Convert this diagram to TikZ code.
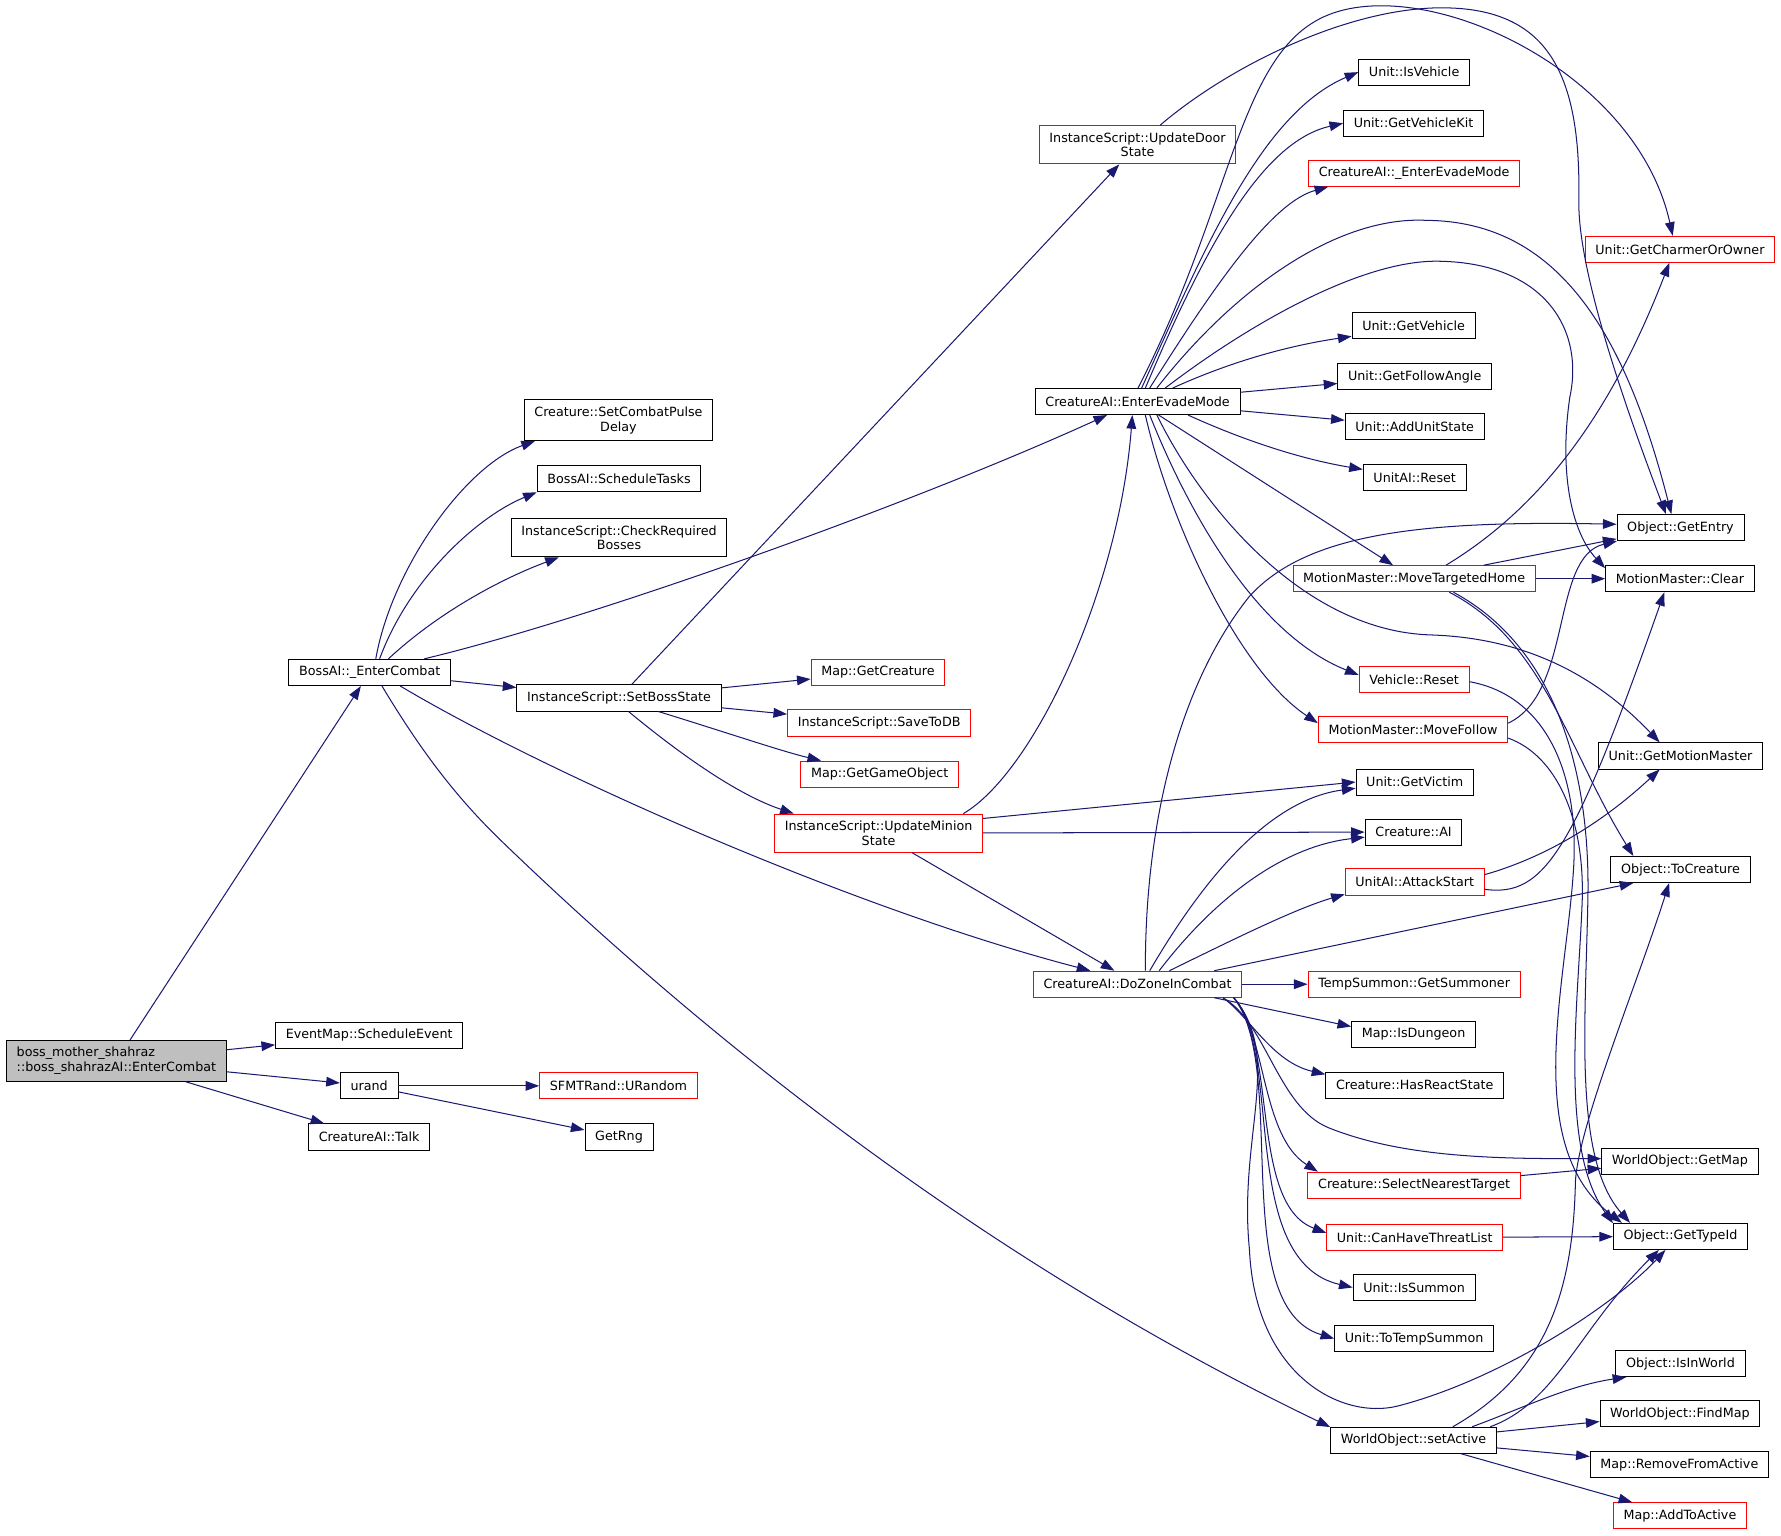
\documentclass[tikz,border=0pt]{standalone}
\usepackage{fontspec}
\setmainfont{DejaVu Sans}
\usetikzlibrary{arrows.meta}
\definecolor{edgeblue}{RGB}{25,25,112}
\definecolor{boxgray}{RGB}{191,191,191}

\begin{document}
\begin{tikzpicture}[x=1pt,y=1pt,>={Triangle[length=12pt,width=8.5pt]}]
    \tikzstyle{fn}=[draw=black,line width=0.8pt,inner xsep=9pt,inner ysep=6pt,minimum height=23pt,align=center,font=\fontsize{11.2}{13}\selectfont]
    \tikzstyle{trunc}=[fn,draw=red]
    \tikzstyle{root}=[fn,fill=boxgray,align=left]
    \tikzstyle{call}=[->,draw=edgeblue,line width=0.9pt]

    \useasboundingbox (0,0) rectangle (1568,-1352);

    \node[root] at (102.5,-934) (main) {boss\_mother\_shahraz\\::boss\_shahrazAI::EnterCombat};
    \node[fn] at (325,-911.5) (sched) {EventMap::ScheduleEvent};
    \node[fn] at (325,-956) (urand) {urand};
    \node[fn] at (325,-1001) (talk) {CreatureAI::Talk};
    \node[fn] at (325.5,-592) (bossec) {BossAI::\_EnterCombat};
    \node[trunc] at (544.5,-956) (urandom) {SFMTRand::URandom};
    \node[fn] at (545,-1001) (getrng) {GetRng};
    \node[fn] at (544.5,-370) (pulse) {Creature::SetCombatPulse\\Delay};
    \node[fn] at (545,-421.5) (tasks) {BossAI::ScheduleTasks};
    \node[fn] at (545,-473.5) (checkreq) {InstanceScript::CheckRequired\\Bosses};
    \node[fn] at (545,-614.5) (setboss) {InstanceScript::SetBossState};
    \node[trunc] at (1001.5,-127.5) (doorstate) {InstanceScript::UpdateDoor\\State};
    \node[fn] at (1001.5,-353.5) (evade) {CreatureAI::EnterEvadeMode};
    \node[trunc] at (773,-592) (getcreature) {Map::GetCreature};
    \node[trunc] at (774,-636.5) (savedb) {InstanceScript::SaveToDB};
    \node[trunc] at (774.5,-681.5) (getgo) {Map::GetGameObject};
    \node[trunc] at (773.5,-733.5) (minion) {InstanceScript::UpdateMinion\\State};
    \node[trunc] at (1001.5,-866.5) (zone) {CreatureAI::DoZoneInCombat};
    \node[fn] at (1244.5,-1268) (setactive) {WorldObject::setActive};

    \node[fn] at (1245,-63.5) (isvehicle) {Unit::IsVehicle};
    \node[fn] at (1244.5,-108.5) (vehiclekit) {Unit::GetVehicleKit};
    \node[trunc] at (1245,-152.5) (evadeint) {CreatureAI::\_EnterEvadeMode};
    \node[fn] at (1244.5,-286.5) (getvehicle) {Unit::GetVehicle};
    \node[fn] at (1245.5,-331.5) (followangle) {Unit::GetFollowAngle};
    \node[fn] at (1245.5,-375.5) (addstate) {Unit::AddUnitState};
    \node[fn] at (1245.5,-420.5) (aireset) {UnitAI::Reset};
    \node[trunc] at (1245,-509.5) (movehome) {MotionMaster::MoveTargetedHome};
    \node[trunc] at (1245,-598.5) (vehreset) {Vehicle::Reset};
    \node[trunc] at (1244,-642.5) (movefollow) {MotionMaster::MoveFollow};
    \node[fn] at (1245.5,-688.5) (getvictim) {Unit::GetVictim};
    \node[fn] at (1244.5,-732.5) (creatureai) {Creature::AI};
    \node[trunc] at (1245.5,-776.5) (attackstart) {UnitAI::AttackStart};
    \node[trunc] at (1245,-866.5) (summoner) {TempSummon::GetSummoner};
    \node[fn] at (1244.5,-910.5) (isdungeon) {Map::IsDungeon};
    \node[fn] at (1245.5,-955.5) (reactstate) {Creature::HasReactState};
    \node[trunc] at (1245,-1043.5) (nearest) {Creature::SelectNearestTarget};
    \node[trunc] at (1245.5,-1089.5) (threat) {Unit::CanHaveThreatList};
    \node[fn] at (1245,-1133.5) (issummon) {Unit::IsSummon};
    \node[fn] at (1245,-1178.5) (totemp) {Unit::ToTempSummon};

    \node[trunc] at (1479,-219.5) (charmer) {Unit::GetCharmerOrOwner};
    \node[fn] at (1479.5,-464.5) (getentry) {Object::GetEntry};
    \node[fn] at (1479,-509.5) (clear) {MotionMaster::Clear};
    \node[fn] at (1479.5,-665.5) (motionmaster) {Unit::GetMotionMaster};
    \node[fn] at (1479.5,-765.5) (tocreature) {Object::ToCreature};
    \node[fn] at (1479,-1022.5) (getmap) {WorldObject::GetMap};
    \node[fn] at (1479.5,-1088.5) (typeid) {Object::GetTypeId};
    \node[fn] at (1479.5,-1200.5) (inworld) {Object::IsInWorld};
    \node[fn] at (1479,-1244.5) (findmap) {WorldObject::FindMap};
    \node[fn] at (1478.5,-1289.5) (removeactive) {Map::RemoveFromActive};
    \node[trunc] at (1479,-1334.5) (addactive) {Map::AddToActive};

    \draw[call] (main) -- (bossec);
    \draw[call] (main) -- (sched);
    \draw[call] (main) -- (urand);
    \draw[call] (main) -- (talk);
    \draw[call] (urand) -- (urandom);
    \draw[call] (urand) -- (getrng);

    \draw[call] (bossec.66) .. controls (345,-500) and (410,-410) .. (pulse.194);
    \draw[call] (bossec.54) .. controls (360,-510) and (420,-455) .. (tasks.south west);
    \draw[call] (bossec.36) .. controls (385,-540) and (440,-510) .. (checkreq.198);
    \draw[call] (bossec.14) .. controls (520,-545) and (800,-445) .. (evade.204);
    \draw[call] (bossec) -- (setboss);
    \draw[call] (bossec.-24) .. controls (480,-680) and (750,-800) .. (zone.164);
    \draw[call] (bossec.-48) .. controls (370,-660) and (400,-700) .. (440,-739) .. controls (700,-990) and (950,-1150) .. (setactive.171);

    \draw[call] (setboss) -- (doorstate);
    \draw[call] (setboss) -- (getcreature);
    \draw[call] (setboss) -- (savedb);
    \draw[call] (setboss.-19) .. controls (640,-645) and (690,-662) .. (getgo.167);
    \draw[call] (setboss.-55) .. controls (600,-665) and (650,-700) .. (minion.167);

    \draw[call] (minion.13) .. controls (910,-680) and (985,-520) .. (evade.249);
    \draw[call] (minion.8) -- (getvictim.180);
    \draw[call] (minion) -- (creatureai);
    \draw[call] (minion) -- (zone);

    \draw[call] (doorstate.41) .. controls (1080,-60) and (1180,-10) .. (1262,-7) .. controls (1360,-4) and (1392,-60) .. (1390,-176) .. controls (1389,-230) and (1420,-330) .. (getentry.137);

    \draw[call] (evade.73) .. controls (1060,-220) and (1110,-100) .. (isvehicle.west);
    \draw[call] (evade.60) .. controls (1060,-220) and (1110,-125) .. (vehiclekit.west);
    \draw[call] (evade.48) .. controls (1070,-250) and (1120,-178) .. (evadeint.189);
    \draw[call] (evade.88) .. controls (1085,-180) and (1090,-50) .. (1165,-15) .. controls (1251,25) and (1440,-60) .. (charmer.118);
    \draw[call] (evade.35) .. controls (1090,-250) and (1180,-190) .. (1256,-194) .. controls (1370,-195) and (1430,-290) .. (getentry.124);
    \draw[call] (evade.26) .. controls (1100,-285) and (1200,-228) .. (1268,-230) .. controls (1360,-232) and (1395,-290) .. (1382,-350) .. controls (1372,-420) and (1385,-470) .. (clear.172);
    \draw[call] (evade.21) .. controls (1080,-320) and (1130,-305) .. (getvehicle.190);
    \draw[call] (evade) -- (followangle);
    \draw[call] (evade) -- (addstate);
    \draw[call] (evade.-15) .. controls (1100,-390) and (1150,-405) .. (aireset.171);
    \draw[call] (evade) -- (movehome);
    \draw[call] (evade.-48) .. controls (1050,-460) and (1110,-560) .. (vehreset.175);
    \draw[call] (evade.-60) .. controls (1030,-460) and (1090,-590) .. (movefollow.176);
    \draw[call] (evade.-35) .. controls (1060,-450) and (1150,-556) .. (1260,-559) .. controls (1350,-562) and (1410,-600) .. (motionmaster.147);

    \draw[call] (movehome.23) .. controls (1360,-445) and (1420,-360) .. (charmer.232);
    \draw[call] (movehome.11) -- (getentry.190);
    \draw[call] (movehome) -- (clear);
    \draw[call] (movehome.-21) .. controls (1360,-565) and (1380,-660) .. (tocreature.164);
    \draw[call] (movehome.-19) .. controls (1370,-570) and (1400,-680) .. (1398,-790) .. controls (1396,-900) and (1385,-1020) .. (typeid.165);

    \draw[call] (vehreset.-2) .. controls (1360,-612) and (1392,-680) .. (1385,-770) .. controls (1378,-870) and (1340,-1010) .. (typeid.167);
    \draw[call] (movefollow.4) .. controls (1385,-610) and (1365,-490) .. (getentry.192);
    \draw[call] (movefollow.-5) .. controls (1370,-665) and (1395,-720) .. (1393,-792) .. controls (1390,-880) and (1372,-1010) .. (typeid.169);

    \draw[call] (attackstart.6) .. controls (1360,-755) and (1410,-725) .. (motionmaster.213);
    \draw[call] (attackstart.-6) .. controls (1360,-790) and (1385,-750) .. (clear.221);

    \draw[call] (zone.60) .. controls (1008,-720) and (1040,-600) .. (1100,-525) .. controls (1150,-470) and (1250,-458) .. (getentry.177);
    \draw[call] (zone.48) .. controls (1050,-790) and (1110,-705) .. (getvictim.186);
    \draw[call] (zone.32) .. controls (1070,-790) and (1130,-745) .. (creatureai.186);
    \draw[call] (zone.23) .. controls (1080,-830) and (1140,-800) .. (attackstart.190);
    \draw[call] (zone.10) -- (tocreature.196);
    \draw[call] (zone) -- (summoner);
    \draw[call] (zone.-10) -- (isdungeon.173);
    \draw[call] (zone.-9) .. controls (1100,-895) and (1120,-935) .. (reactstate.173);
    \draw[call] (zone.-9) .. controls (1115,-900) and (1125,-975) .. (1170,-993) .. controls (1240,-1021) and (1330,-1020) .. (getmap.178);
    \draw[call] (zone.-8) .. controls (1115,-910) and (1110,-1000) .. (nearest.172);
    \draw[call] (zone.-8) .. controls (1125,-920) and (1100,-1060) .. (threat.177);
    \draw[call] (zone.-8) .. controls (1130,-930) and (1090,-1110) .. (issummon.west);
    \draw[call] (zone.-8) .. controls (1135,-940) and (1080,-1150) .. (totemp.west);
    \draw[call] (zone.-8) .. controls (1130,-930) and (1090,-1000) .. (1100,-1100) .. controls (1105,-1210) and (1180,-1250) .. (1230,-1238) .. controls (1320,-1215) and (1420,-1150) .. (typeid.222);

    \draw[call] (nearest) -- (getmap.185);
    \draw[call] (threat) -- (typeid);

    \draw[call] (setactive.19) .. controls (1360,-1210) and (1385,-1140) .. (1387,-1040) .. controls (1390,-990) and (1440,-870) .. (tocreature.230);
    \draw[call] (setactive.10) .. controls (1370,-1235) and (1390,-1170) .. (typeid.212);
    \draw[call] (setactive.13) .. controls (1340,-1240) and (1380,-1220) .. (inworld.194);
    \draw[call] (setactive) -- (findmap);
    \draw[call] (setactive) -- (removeactive);
    \draw[call] (setactive) -- (addactive);
\end{tikzpicture}
\end{document}
